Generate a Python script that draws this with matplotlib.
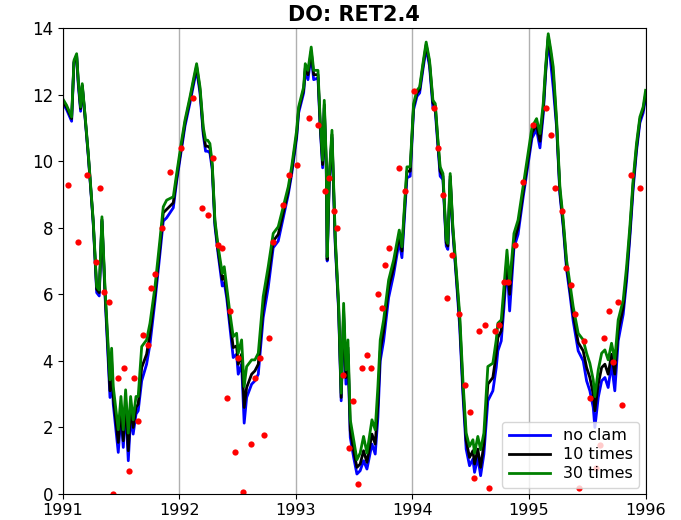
import matplotlib
matplotlib.use('Agg')
import matplotlib.pyplot as plt

# model output (decimal year)
t = [1991.000, 1991.034, 1991.077, 1991.097, 1991.120, 1991.134, 1991.154, 1991.168, 1991.191, 1991.220,
     1991.262, 1991.292, 1991.314, 1991.337, 1991.363, 1991.391, 1991.406, 1991.420, 1991.434, 1991.477,
     1991.500, 1991.520, 1991.540, 1991.563, 1991.583, 1991.605, 1991.629, 1991.648, 1991.678, 1991.720,
     1991.749, 1991.792, 1991.834, 1991.863, 1991.892, 1991.949, 1991.978, 1992.021,
     1992.049, 1992.092, 1992.120, 1992.149, 1992.178, 1992.206, 1992.226, 1992.244, 1992.263, 1992.283,
     1992.306, 1992.334, 1992.369, 1992.386, 1992.407, 1992.435, 1992.463, 1992.492, 1992.506, 1992.535,
     1992.557, 1992.578, 1992.621, 1992.649, 1992.678, 1992.720, 1992.763, 1992.806, 1992.849, 1992.892,
     1992.935, 1992.964, 1993.007,
     1993.024, 1993.067, 1993.081, 1993.104, 1993.132, 1993.153, 1993.190, 1993.209, 1993.230, 1993.244,
     1993.261, 1993.269, 1993.286, 1993.310, 1993.327, 1993.338, 1993.367, 1993.389, 1993.410, 1993.430,
     1993.447, 1993.467, 1993.496, 1993.524, 1993.552, 1993.581, 1993.610, 1993.653, 1993.681, 1993.704,
     1993.724, 1993.753, 1993.796, 1993.839, 1993.887, 1993.910, 1993.953, 1993.981, 1994.010, 1994.039,
     1994.062, 1994.090, 1994.118, 1994.147, 1994.176, 1994.196, 1994.219, 1994.238, 1994.262, 1994.290,
     1994.304, 1994.324, 1994.347, 1994.376, 1994.405, 1994.433, 1994.461, 1994.490, 1994.519, 1994.533,
     1994.561, 1994.585, 1994.613, 1994.647, 1994.690, 1994.719, 1994.733, 1994.762, 1994.785, 1994.811,
     1994.834, 1994.871, 1994.906, 1994.949, 1994.992, 1995.026,
     1995.065, 1995.094, 1995.122, 1995.142, 1995.165, 1995.188, 1995.208, 1995.237, 1995.265, 1995.294,
     1995.322, 1995.351, 1995.379, 1995.422, 1995.465, 1995.494, 1995.522, 1995.551, 1995.565, 1995.594,
     1995.623, 1995.651, 1995.679, 1995.708, 1995.736, 1995.765, 1995.808, 1995.837, 1995.865, 1995.893,
     1995.922, 1995.951, 1995.979, 1996.000]

no_clam = [11.75, 11.55, 11.20, 12.95, 13.15, 12.30, 11.50, 12.25, 11.35, 10.15,
           8.15, 6.05, 5.95, 8.20, 6.00, 4.00, 2.90, 3.80, 2.70, 1.25,
           2.40, 1.40, 2.60, 1.00, 2.30, 1.80, 2.40, 2.50, 3.40, 3.90,
           4.50, 5.80, 7.20, 8.20, 8.30, 8.60, 9.40, 10.40,
           11.05, 11.75, 12.25, 12.75, 12.05, 10.80, 10.30, 10.30, 10.25, 9.75,
           8.05, 7.20, 6.25, 6.35, 5.90, 5.00, 4.10, 4.20, 3.60, 3.90,
           2.13, 2.90, 3.30, 3.40, 3.60, 5.30, 6.20, 7.40, 7.60, 8.30,
           9.00, 9.60, 10.70,
           11.45, 12.05, 12.70, 12.45, 13.20, 12.45, 12.50, 11.00, 9.80, 11.60,
           9.80, 7.00, 9.30, 10.70, 8.80, 7.50, 5.50, 2.80, 5.30, 3.30,
           4.20, 1.70, 1.10, 0.60, 0.70, 1.00, 0.75, 1.50, 1.20, 2.30,
           4.00, 4.60, 5.90, 6.60, 7.60, 7.10, 9.50, 9.55, 11.55, 11.95,
           12.05, 12.75, 13.40, 12.85, 11.60, 11.50, 10.45, 9.55, 9.45, 7.45,
           7.35, 9.45, 7.85, 6.50, 5.05, 3.00, 1.35, 0.85, 1.05, 0.65,
           1.10, 0.55, 1.20, 2.80, 3.10, 3.80, 4.30, 4.60, 5.60, 6.90,
           5.50, 7.40, 7.80, 8.90, 9.90, 10.70,
           10.95, 10.40, 11.40, 12.60, 13.65, 12.90, 12.20, 11.00, 9.00, 8.00,
           6.75, 6.00, 5.20, 4.30, 4.00, 3.40, 3.10, 2.60, 2.00, 2.90,
           3.40, 3.50, 3.20, 3.90, 3.10, 4.60, 5.40, 6.40, 7.70, 9.15,
           10.30, 11.15, 11.45, 11.90]

times_10 = [11.80, 11.62, 11.28, 12.98, 13.18, 12.38, 11.58, 12.28, 11.40, 10.18,
            8.18, 6.15, 6.05, 8.25, 6.10, 4.20, 3.10, 4.00, 2.90, 1.55,
            2.60, 1.60, 2.80, 1.30, 2.60, 2.00, 2.60, 2.70, 3.80, 4.20,
            4.80, 6.00, 7.40, 8.45, 8.55, 8.75, 9.50, 10.50,
            11.15, 11.85, 12.35, 12.85, 12.15, 10.90, 10.45, 10.45, 10.40, 9.85,
            8.15, 7.30, 6.45, 6.55, 6.05, 5.20, 4.40, 4.45, 3.90, 4.20,
            2.60, 3.20, 3.60, 3.70, 3.90, 5.60, 6.50, 7.60, 7.80, 8.45,
            9.10, 9.70, 10.80,
            11.55, 12.15, 12.80, 12.60, 13.30, 12.60, 12.60, 11.10, 9.90, 11.70,
            9.90, 7.05, 9.40, 10.80, 8.90, 7.60, 5.60, 2.90, 5.50, 3.50,
            4.40, 1.90, 1.30, 0.80, 0.90, 1.30, 0.95, 1.80, 1.50, 2.70,
            4.30, 4.90, 6.20, 6.80, 7.80, 7.30, 9.70, 9.70, 11.65, 12.05,
            12.15, 12.85, 13.50, 12.95, 11.75, 11.65, 10.55, 9.70, 9.55, 7.55,
            7.45, 9.55, 7.95, 6.60, 5.25, 3.20, 1.60, 1.10, 1.30, 0.90,
            1.35, 0.80, 1.50, 3.30, 3.50, 4.20, 4.70, 4.90, 5.90, 7.10,
            6.00, 7.60, 8.00, 9.05, 10.05, 10.85,
            11.10, 10.60, 11.55, 12.70, 13.75, 13.20, 12.60, 11.10, 9.10, 8.10,
            6.90, 6.15, 5.40, 4.55, 4.30, 3.80, 3.50, 3.00, 2.50, 3.30,
            3.80, 3.90, 3.60, 4.20, 3.60, 4.90, 5.60, 6.60, 7.85, 9.30,
            10.40, 11.25, 11.55, 12.00]

times_30 = [11.88, 11.68, 11.33, 13.03, 13.23, 12.43, 11.63, 12.33, 11.43, 10.23,
            8.23, 6.23, 6.13, 8.33, 6.23, 4.43, 3.43, 4.38, 3.23, 1.93,
            2.93, 1.93, 3.13, 1.83, 2.93, 2.23, 2.93, 2.93, 4.43, 4.63,
            5.13, 6.23, 7.63, 8.63, 8.83, 8.93, 9.63, 10.63,
            11.23, 11.93, 12.43, 12.93, 12.23, 11.03, 10.63, 10.63, 10.53, 9.93,
            8.23, 7.43, 6.63, 6.83, 6.23, 5.43, 4.73, 4.83, 4.23, 4.63,
            3.23, 3.83, 4.03, 4.03, 4.23, 5.93, 6.83, 7.83, 8.03, 8.63,
            9.23, 9.83, 10.93,
            11.63, 12.23, 12.93, 12.73, 13.43, 12.73, 12.73, 11.23, 10.03, 11.83,
            10.03, 7.13, 9.53, 10.93, 9.03, 7.73, 5.73, 3.03, 5.73, 3.73,
            4.63, 2.23, 1.63, 1.03, 1.23, 1.73, 1.23, 2.23, 1.93, 3.23,
            4.63, 5.23, 6.43, 7.03, 7.93, 7.43, 9.83, 9.83, 11.73, 12.13,
            12.23, 12.93, 13.58, 13.03, 11.83, 11.73, 10.63, 9.83, 9.63, 7.63,
            7.53, 9.63, 8.03, 6.73, 5.43, 3.43, 1.83, 1.43, 1.63, 1.23,
            1.73, 1.33, 1.83, 3.83, 3.93, 4.63, 5.13, 5.23, 6.23, 7.33,
            6.33, 7.83, 8.23, 9.23, 10.23, 11.03,
            11.28, 10.83, 11.73, 12.83, 13.83, 13.33, 12.83, 11.23, 9.23, 8.23,
            7.03, 6.33, 5.63, 4.83, 4.63, 4.23, 3.93, 3.43, 2.93, 3.73,
            4.23, 4.33, 4.03, 4.53, 4.03, 5.23, 5.83, 6.83, 8.03, 9.43,
            10.53, 11.33, 11.63, 12.13]

# observations (red dots)
obs_t = [1991.043, 1991.128, 1991.205, 1991.283, 1991.317, 1991.351, 1991.394, 1991.428, 1991.471, 1991.522,
         1991.565, 1991.608, 1991.642, 1991.685, 1991.728, 1991.762, 1991.796, 1991.856, 1991.925, 1992.019,
         1992.122, 1992.199, 1992.250, 1992.293, 1992.336, 1992.370, 1992.413, 1992.438, 1992.481, 1992.507,
         1992.550, 1992.618, 1992.652, 1992.695, 1992.729, 1992.772, 1992.807, 1992.892, 1992.943, 1993.012,
         1993.115, 1993.192, 1993.252, 1993.286, 1993.329, 1993.354, 1993.406, 1993.457, 1993.491, 1993.534,
         1993.568, 1993.611, 1993.646, 1993.705, 1993.740, 1993.765, 1993.800, 1993.885, 1993.937, 1994.014,
         1994.185, 1994.219, 1994.262, 1994.296, 1994.339, 1994.399, 1994.450, 1994.493, 1994.527, 1994.570,
         1994.622, 1994.656, 1994.707, 1994.741, 1994.784, 1994.818, 1994.878, 1994.947, 1995.033, 1995.144,
         1995.187, 1995.221, 1995.281, 1995.315, 1995.358, 1995.392, 1995.426, 1995.469, 1995.521, 1995.572,
         1995.606, 1995.640, 1995.683, 1995.717, 1995.760, 1995.795, 1995.872, 1995.949]
obs_v = [9.28, 7.57, 9.58, 6.97, 9.19, 6.07, 5.78, 0.00, 3.50, 3.80,
         0.70, 3.50, 2.20, 4.78, 4.48, 6.18, 6.60, 7.98, 9.67, 10.39,
         11.89, 8.59, 8.38, 10.09, 7.48, 7.39, 2.88, 5.50, 1.26, 4.08,
         0.06, 1.50, 3.48, 4.08, 1.77, 4.68, 7.57, 8.68, 9.58, 9.88,
         11.29, 11.08, 9.09, 9.49, 8.49, 7.98, 3.57, 1.38, 2.79, 0.30,
         3.78, 4.17, 3.78, 6.00, 5.58, 6.88, 7.39, 9.79, 9.09, 12.10,
         11.59, 10.39, 8.98, 5.88, 7.18, 5.40, 3.27, 2.46, 0.48, 4.90,
         5.08, 0.18, 4.90, 5.08, 6.37, 6.37, 7.48, 9.37, 11.08, 11.59,
         10.78, 9.19, 8.49, 6.79, 6.28, 5.40, 0.18, 4.59, 2.88, 0.78,
         1.47, 4.68, 5.50, 3.98, 5.77, 2.67, 9.58, 9.19]

fig = plt.figure(figsize=(6.81, 5.2), dpi=100)
ax = fig.add_axes([0.092, 0.05, 0.856, 0.896])

ax.plot(t, no_clam, color='blue', lw=2, label='no clam')
ax.plot(t, times_10, color='black', lw=2, label='10 times')
ax.plot(t, times_30, color='green', lw=2, label='30 times')
ax.plot(obs_t, obs_v, 'o', color='red', ms=4.5, mec='none')

ax.set_xlim(1991, 1996)
ax.set_ylim(0, 14)
ax.set_xticks([1991, 1992, 1993, 1994, 1995, 1996])
ax.set_xticklabels(['1991', '1992', '1993', '1994', '1995', '1996'])
ax.tick_params(axis='y', labelsize=12)
ax.tick_params(axis='x', labelsize=11.5, pad=3.2)
ax.grid(axis='x', color='#b0b0b0', lw=1)
ax.set_title('DO: RET2.4', fontsize=15, fontweight='bold', pad=5)
ax.legend(loc='lower right', fontsize=11.5, handlelength=2.6, labelspacing=0.25,
          borderaxespad=0.4)

fig.savefig('out.png', dpi=100)
